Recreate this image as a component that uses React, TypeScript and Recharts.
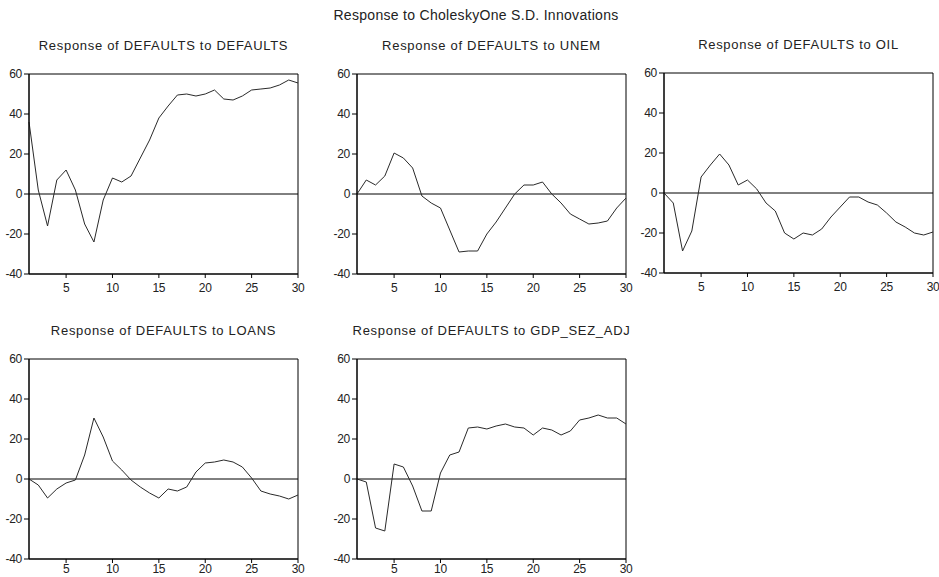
import { LineChart, Line, XAxis, YAxis, ReferenceLine, ReferenceArea } from "recharts";

// impulse response horizon
const periods = [
	1, 2, 3, 4, 5, 6, 7, 8, 9, 10, 11, 12, 13, 14, 15, 16, 17, 18, 19, 20, 21, 22, 23, 24, 25, 26, 27,
	28, 29, 30,
];

const toDefaults = [
	36, 2, -16, 7, 12, 2, -15, -24, -3, 8, 6, 9, 18, 27, 38, 44, 49.5, 50, 49, 50, 52, 47.5, 47, 49,
	52, 52.5, 53, 54.5, 57, 55.5,
];
const toUnem = [
	0, 7, 4.5, 9, 20.5, 18, 13, -1, -4.5, -7, -18, -29, -28.5, -28.5, -20, -14, -7, 0, 4.5, 4.5, 6, 0,
	-4.5, -10, -12.5, -15, -14.5, -13.5, -7, -2,
];
const toOil = [
	0, -5, -29, -19, 8, 14, 19.5, 14, 4, 6.5, 2, -5, -9, -20, -23, -20, -21, -18, -12, -7, -2, -2,
	-4.5, -6, -10, -14.5, -17, -20, -21, -19.5,
];
const toLoans = [
	0, -3, -9.5, -5, -2, -0.5, 12, 30.5, 21, 9, 4.5, -0.5, -4, -7, -9.5, -5, -6, -4, 3.5, 8, 8.5,
	9.5, 8.5, 6, 0.5, -6, -7.5, -8.5, -10, -8,
];
const toGdp = [
	0, -1.5, -24.5, -26, 7.5, 6, -3.5, -16, -16, 3, 12, 13.5, 25.5, 26, 25, 26.5, 27.5, 26, 25.5, 22,
	25.5, 24.5, 22, 24, 29.5, 30.5, 32, 30.5, 30.5, 27.5,
];

const xTicks = [5, 10, 15, 20, 25, 30];
const yTicks = [-40, -20, 0, 20, 40, 60];

const FONT = "'Liberation Sans', Arial, sans-serif";
const PW = 269; // plot width
const PH = 200; // plot height

function Panel({
	title,
	values,
	px,
	py,
	gap = 5,
}: {
	title: string;
	values: number[];
	px: number;
	py: number;
	gap?: number;
}) {
	const data = periods.map((p, i) => ({ period: p, value: values[i] }));
	const tick = { fontSize: 12, fill: "#222", letterSpacing: -0.3 };
	return (
		<>
			<div
				style={{
					position: "absolute",
					left: px + PW / 2 - 200,
					top: py - 36,
					width: 400,
					textAlign: "center",
					fontSize: 13,
					lineHeight: "16px",
					letterSpacing: 0.7,
					color: "#222",
				}}
			>
				{title}
			</div>
			<div style={{ position: "absolute", left: px - 40, top: py - 10 }}>
				<LineChart
					width={PW + 50}
					height={PH + 40}
					data={data}
					margin={{ top: 10, right: 10, bottom: 0, left: 0 }}
				>
					<XAxis
						dataKey="period"
						type="number"
						domain={[1, 30]}
						ticks={xTicks}
						height={30}
						tickSize={4}
						tickMargin={gap}
						stroke="#000"
						tick={tick}
					/>
					<YAxis
						domain={[-40, 60]}
						ticks={yTicks}
						width={40}
						tickSize={5}
						stroke="#000"
						tick={tick}
					/>
					<ReferenceArea x1={1} x2={30} y1={-40} y2={60} fill="none" stroke="#000" strokeWidth={1} />
					<ReferenceLine y={0} stroke="#000" strokeWidth={1} />
					<Line
						type="linear"
						dataKey="value"
						stroke="#2a2a2a"
						strokeWidth={1}
						dot={false}
						isAnimationActive={false}
					/>
				</LineChart>
			</div>
		</>
	);
}

export default function App() {
	return (
		<div
			style={{
				position: "absolute",
				left: 0,
				top: 0,
				width: 939,
				height: 577,
				background: "#fff",
				fontFamily: FONT,
				overflow: "hidden",
			}}
		>
			<div
				style={{
					position: "absolute",
					left: 476 - 250,
					top: 6,
					width: 500,
					textAlign: "center",
					fontSize: 14,
					lineHeight: "18px",
					letterSpacing: 0.3,
					color: "#222",
				}}
			>
				Response to CholeskyOne S.D. Innovations
			</div>
			<Panel title="Response of DEFAULTS to DEFAULTS" values={toDefaults} px={29} py={74} />
			<Panel title="Response of DEFAULTS to UNEM" values={toUnem} px={357} py={74} />
			<Panel title="Response of DEFAULTS to OIL" values={toOil} px={664} py={73} />
			<Panel title="Response of DEFAULTS to LOANS" values={toLoans} px={29} py={359} gap={1} />
			<Panel title="Response of DEFAULTS to GDP_SEZ_ADJ" values={toGdp} px={357} py={359} gap={1} />
		</div>
	);
}
